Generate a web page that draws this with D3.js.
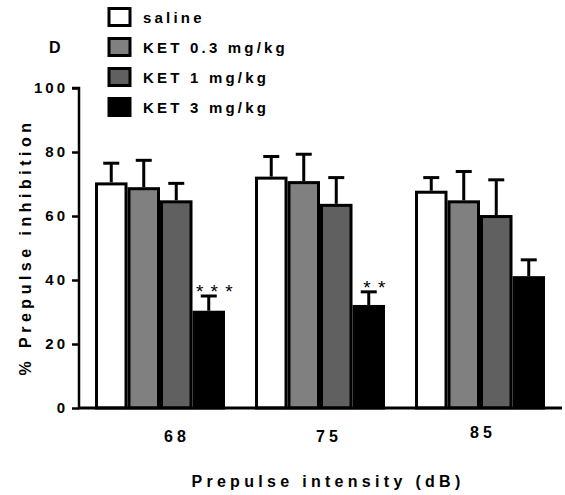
<!DOCTYPE html>
<html>
<head>
<meta charset="utf-8">
<script src="https://cdn.jsdelivr.net/npm/d3@7"></script>
<style>
  body { margin: 0; background: #fff; }
  text { font-family: "Liberation Sans", Arial, sans-serif; font-weight: bold; fill: #000; }
</style>
</head>
<body>
<svg id="chart" width="565" height="495"></svg>
<script>
// chart data
var intensities = ["68", "75", "85"];
var groups = ["saline", "KET 0.3 mg/kg", "KET 1 mg/kg", "KET 3 mg/kg"];
var fills = ["#ffffff", "#808080", "#606060", "#000000"];

// mean % PPI per intensity, one array per treatment
var saline = [70.5, 72.3, 67.9];
var ket03 = [69.0, 70.9, 64.9];
var ket1 = [64.9, 63.8, 60.3];
var ket3 = [30.4, 32.2, 41.2];

// SEM (upper bar only)
var salineErr = [6.0, 6.3, 4.1];
var ket03Err = [8.4, 8.4, 9.0];
var ket1Err = [5.3, 8.2, 11.0];
var ket3Err = [4.6, 4.1, 5.1];

var stars = ["* * *", "* *", ""];
var yTicks = [0, 20, 40, 60, 80, 100];

var means = [saline, ket03, ket1, ket3];
var errs = [salineErr, ket03Err, ket1Err, ket3Err];

var svg = d3.select("#chart");

// plot area
var plotLeft = 79, plotBottom = 408, plotTop = 88, plotRight = 562;

var y = d3.scaleLinear().domain([0, 100]).range([plotBottom, plotTop]);

var x0 = d3.scaleBand()
    .domain(intensities)
    .range([95, 545])
    .paddingInner(0.1875)
    .paddingOuter(0);

var x1 = d3.scaleBand()
    .domain(groups)
    .range([0, x0.bandwidth()]);

// bars
var g = svg.append("g");
intensities.forEach(function(d, i) {
    groups.forEach(function(grp, j) {
        var bx = x0(d) + x1(grp);
        var val = means[j][i];
        var errTop = y(val + errs[j][i]);
        var cx = bx + x1.bandwidth() / 2;

        // error bar (drawn under the bar so the stem starts at the bar top)
        g.append("line")
            .attr("x1", cx).attr("x2", cx)
            .attr("y1", y(val)).attr("y2", errTop)
            .attr("stroke", "#000").attr("stroke-width", 3);
        g.append("line")
            .attr("x1", cx - 8).attr("x2", cx + 8)
            .attr("y1", errTop).attr("y2", errTop)
            .attr("stroke", "#000").attr("stroke-width", 3);

        g.append("rect")
            .attr("x", bx + 1.5)
            .attr("y", y(val) + 1.5)
            .attr("width", x1.bandwidth() - 3)
            .attr("height", y(0) - y(val) - 1.5)
            .attr("fill", fills[j])
            .attr("stroke", "#000")
            .attr("stroke-width", 3);
    });

    if (stars[i]) {
        svg.append("text")
            .attr("x", x0(d) + x1("KET 3 mg/kg") + x1.bandwidth() / 2 + 6)
            .attr("y", y(ket3[i] + ket3Err[i]) + 2)
            .attr("text-anchor", "middle")
            .style("font-size", "19px")
            .style("font-weight", "normal")
            .style("letter-spacing", "1px")
            .text(stars[i]);
    }
});

// y axis
var yAxis = d3.axisLeft(y).tickValues(yTicks).tickSize(7).tickPadding(4);
var ya = svg.append("g")
    .attr("transform", "translate(" + plotLeft + ",0)")
    .call(yAxis);
ya.select(".domain").attr("stroke-width", 2.5).attr("d", "M-7," + plotTop + "H0V" + plotBottom);
ya.selectAll(".tick line").attr("stroke-width", 2.5);
ya.selectAll(".tick text")
    .style("font-size", "15px")
    .style("letter-spacing", "3px")
    .style("font-family", "'Liberation Sans', Arial, sans-serif")
    .style("font-weight", "bold");

// x axis baseline
svg.append("line")
    .attr("x1", plotLeft - 1).attr("x2", plotRight)
    .attr("y1", plotBottom).attr("y2", plotBottom)
    .attr("stroke", "#000").attr("stroke-width", 3);

// x tick labels (offsets copy the figure's placement)
var labelDx = [17, 9, 3];
var labelDy = [0, 0, -4];
intensities.forEach(function(d, i) {
    svg.append("text")
        .attr("x", x0(d) + x0.bandwidth() / 2 + labelDx[i])
        .attr("y", 442 + labelDy[i])
        .attr("text-anchor", "middle")
        .style("font-size", "16px")
        .style("letter-spacing", "4px")
        .text(d);
});

// axis titles
svg.append("text")
    .attr("x", 328).attr("y", 487)
    .attr("text-anchor", "middle")
    .style("font-size", "16px")
    .style("letter-spacing", "4.3px")
    .text("Prepulse intensity (dB)");

svg.append("text")
    .attr("transform", "translate(31,247) rotate(-90)")
    .attr("text-anchor", "middle")
    .style("font-size", "16px")
    .style("letter-spacing", "4.5px")
    .text("% Prepulse inhibition");

// panel letter
svg.append("text")
    .attr("x", 49).attr("y", 53)
    .style("font-size", "16px")
    .text("D");

// legend
var leg = svg.append("g");
groups.forEach(function(grp, j) {
    var cy = 17 + j * 30;
    leg.append("rect")
        .attr("x", 109).attr("y", cy - 8.5)
        .attr("width", 21).attr("height", 17)
        .attr("fill", fills[j])
        .attr("stroke", "#000")
        .attr("stroke-width", 3);
    leg.append("text")
        .attr("x", 143).attr("y", cy + 5.5)
        .style("font-size", "15px")
        .style("letter-spacing", "3.2px")
        .text(grp);
});
</script>
</body>
</html>
